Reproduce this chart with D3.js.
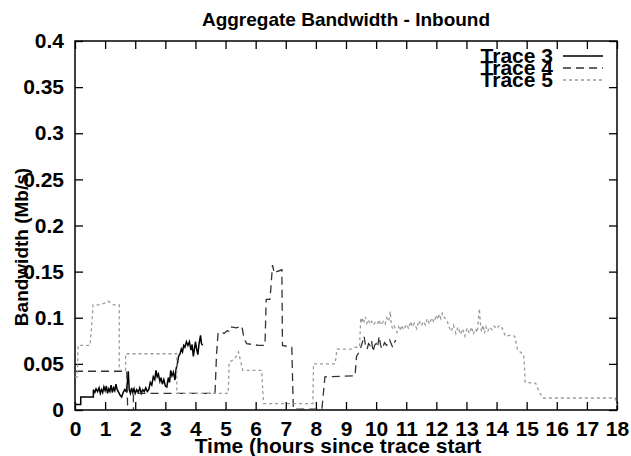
<html>
<head>
	<script src="https://d3js.org/d3.v7.min.js"></script>
	<style>
		body { margin: 0; background: #fff; }
		text { font-family: "Liberation Sans", Arial, sans-serif; font-weight: bold; }
	</style>
</head>
<body>
	<div id="viz"></div>

	<script>
	// data: [hours since start, Mb/s]
	var trace3 = [[0,0.006],[0.19,0.006],[0.19,0.014],[0.61,0.014],[0.61,0.022],[0.66,0.019],[0.7,0.023],
		[0.75,0.02],[0.8,0.024],[0.84,0.018],[0.88,0.022],[0.92,0.019],[0.96,0.025],[1.0,0.021],[1.04,0.026],
		[1.08,0.018],[1.12,0.023],[1.16,0.02],[1.2,0.027],[1.24,0.019],[1.28,0.024],[1.32,0.021],[1.36,0.028],
		[1.4,0.022],[1.45,0.019],[1.5,0.016],[1.55,0.014],[1.6,0.019],[1.65,0.022],[1.7,0.02],[1.74,0.03],
		[1.77,0.042],[1.8,0.022],[1.84,0.018],[1.88,0.024],[1.92,0.019],[1.96,0.023],[2.0,0.018],[2.05,0.022],
		[2.1,0.019],[2.15,0.024],[2.2,0.018],[2.25,0.022],[2.3,0.02],[2.35,0.024],[2.4,0.02],[2.45,0.022],
		[2.5,0.03],[2.55,0.027],[2.6,0.036],[2.65,0.033],[2.69,0.043],[2.73,0.036],[2.77,0.039],[2.82,0.031],
		[2.86,0.035],[2.9,0.028],[2.95,0.033],[3.0,0.026],[3.05,0.025],[3.1,0.035],[3.14,0.03],[3.18,0.043],
		[3.22,0.037],[3.27,0.041],[3.32,0.0325],[3.36,0.045],[3.4,0.05],[3.44,0.058],[3.49,0.061],[3.53,0.066],
		[3.57,0.063],[3.61,0.07],[3.65,0.068],[3.7,0.074],[3.75,0.07],[3.8,0.074],[3.85,0.065],[3.89,0.071],
		[3.93,0.058],[3.97,0.067],[4.0,0.074],[4.04,0.066],[4.08,0.06],[4.12,0.072],[4.17,0.081],[4.2,0.072],
		[4.24,0.07]];

	var trace4 = [[0,0.042],[1.72,0.042],[1.75,0.0],[1.94,0.0],[1.94,0.018],[4.65,0.018],[4.7,0.06],
		[4.75,0.083],[4.85,0.085],[4.95,0.083],[5.05,0.086],[5.15,0.085],[5.2,0.09],[5.35,0.089],[5.54,0.091],
		[5.6,0.08],[5.65,0.075],[5.7,0.072],[5.9,0.071],[6.1,0.07],[6.31,0.07],[6.35,0.12],[6.47,0.12],
		[6.5,0.13],[6.56,0.157],[6.62,0.148],[6.7,0.15],[6.87,0.152],[6.89,0.07],[7.2,0.068],[7.25,0.001],
		[8.2,0.001],[8.3,0.036],[9.3,0.037],[9.35,0.058],[9.47,0.065],[9.53,0.072],[9.6,0.08],[9.65,0.069],
		[9.7,0.066],[9.75,0.072],[9.8,0.07],[9.85,0.075],[9.9,0.063],[9.95,0.07],[10.0,0.072],[10.05,0.068],
		[10.1,0.08],[10.15,0.07],[10.2,0.066],[10.28,0.073],[10.35,0.07],[10.45,0.076],[10.55,0.068],[10.65,0.076]];

	var trace5 = [[0,0.036],[0.08,0.036],[0.1,0.07],[0.5,0.07],[0.55,0.09],[0.6,0.114],[0.8,0.114],
		[1.0,0.116],[1.1,0.118],[1.28,0.114],[1.47,0.114],[1.47,0.043],[1.68,0.043],[1.68,0.061],
		[3.38,0.061],[3.38,0.018],[5.09,0.018],[5.12,0.052],[5.3,0.055],[5.43,0.063],[5.57,0.043],
		[6.2,0.043],[6.26,0.007],[7.9,0.007],[7.92,0.05],[8.64,0.05],[8.7,0.066],[9.19,0.066],[9.3,0.068],
		[9.45,0.068],[9.49,0.1],[9.52,0.094],[9.56,0.1],[9.6,0.096],[9.65,0.101],[9.69,0.094],[9.74,0.098],
		[9.8,0.093],[9.85,0.096],[9.91,0.092],[9.97,0.095],[10.05,0.093],[10.1,0.098],[10.15,0.092],
		[10.24,0.096],[10.3,0.093],[10.35,0.1],[10.42,0.096],[10.47,0.107],[10.5,0.093],[10.55,0.088],
		[10.6,0.091],[10.69,0.084],[10.75,0.09],[10.8,0.086],[10.85,0.092],[10.92,0.087],[11.02,0.093],
		[11.08,0.088],[11.15,0.096],[11.2,0.09],[11.27,0.094],[11.35,0.088],[11.42,0.097],[11.5,0.091],
		[11.57,0.096],[11.64,0.092],[11.7,0.099],[11.77,0.093],[11.85,0.1],[11.92,0.095],[12.0,0.103],
		[12.05,0.098],[12.1,0.104],[12.15,0.099],[12.2,0.105],[12.27,0.1],[12.35,0.098],[12.42,0.09],
		[12.5,0.085],[12.57,0.092],[12.65,0.083],[12.72,0.09],[12.8,0.082],[12.87,0.088],[12.95,0.08],
		[13.02,0.089],[13.1,0.083],[13.17,0.09],[13.23,0.082],[13.3,0.088],[13.36,0.084],[13.4,0.1],
		[13.43,0.11],[13.46,0.095],[13.5,0.085],[13.55,0.092],[13.6,0.083],[13.65,0.09],[13.7,0.085],
		[13.77,0.09],[13.85,0.087],[13.92,0.091],[14.0,0.088],[14.1,0.092],[14.2,0.088],[14.29,0.08],
		[14.45,0.081],[14.6,0.08],[14.7,0.065],[14.9,0.06],[14.93,0.045],[14.95,0.03],[15.3,0.029],
		[15.4,0.021],[15.53,0.013],[17.94,0.013],[18.0,0.005]];

	var xTicks = d3.range(0, 19);
	var yTicks = [0, 0.05, 0.1, 0.15, 0.2, 0.25, 0.3, 0.35, 0.4];
	var seriesNames = ["Trace 3", "Trace 4", "Trace 5"];

	var W = 631, H = 456;
	// plot frame ("top" is taken by window, so use other names)
	var x0 = 75, x1 = 617, y0 = 410, y1 = 41;

	var svg = d3.select("#viz").append("svg")
		.attr("width", W).attr("height", H);

	var x = d3.scaleLinear().domain([0, 18]).range([x0, x1]);
	var y = d3.scaleLinear().domain([0, 0.4]).range([y0, y1]);

	// axes, ticks point inwards like gnuplot
	var xAxis = svg.append("g").attr("transform", "translate(0," + y0 + ")")
		.call(d3.axisBottom(x).tickValues(xTicks).tickSize(-8).tickPadding(11).tickFormat(d3.format("d")));
	var yAxis = svg.append("g").attr("transform", "translate(" + x0 + ",0)")
		.call(d3.axisLeft(y).tickValues(yTicks).tickSize(-8).tickPadding(11).tickFormat(function(d) { return d === 0 ? "0" : String(+d.toFixed(2)); }));
	svg.append("g").attr("transform", "translate(0," + y1 + ")")
		.call(d3.axisTop(x).tickValues(xTicks).tickSize(-8).tickFormat(""));
	svg.append("g").attr("transform", "translate(" + x1 + ",0)")
		.call(d3.axisRight(y).tickValues(yTicks).tickSize(-8).tickFormat(""));

	svg.selectAll(".domain").remove();
	svg.selectAll(".tick line").attr("stroke", "#000").attr("stroke-width", 1.3);
	xAxis.selectAll("text").attr("font-size", 21).attr("fill", "#000");
	yAxis.selectAll("text").attr("font-size", 21).attr("fill", "#000");

	svg.append("rect")
		.attr("x", x0).attr("y", y1)
		.attr("width", x1 - x0).attr("height", y0 - y1)
		.attr("fill", "none").attr("stroke", "#000").attr("stroke-width", 1.5);

	// the traces
	var line = d3.line().x(function(d) { return x(d[0]); }).y(function(d) { return y(d[1]); });
	var styles = [
		{ data: trace3, color: "#000", dash: null, w: 1.5 },
		{ data: trace4, color: "#333", dash: "8,5", w: 1.3 },
		{ data: trace5, color: "#9a9a9a", dash: "3,3", w: 1.3 }
	];

	styles.forEach(function(s) {
		svg.append("path").datum(s.data)
			.attr("d", line)
			.attr("fill", "none")
			.attr("stroke", s.color)
			.attr("stroke-width", s.w)
			.attr("stroke-dasharray", s.dash);
	});

	// legend (rows overlap, as in the original)
	seriesNames.forEach(function(name, i) {
		var by = 63 + i * 12;
		svg.append("text").attr("x", 553).attr("y", by)
			.attr("text-anchor", "end").attr("font-size", 21).text(name);
		svg.append("line").attr("x1", 563).attr("x2", 603)
			.attr("y1", by - 7).attr("y2", by - 7)
			.attr("stroke", styles[i].color).attr("stroke-width", styles[i].w)
			.attr("stroke-dasharray", styles[i].dash);
	});

	// titles
	svg.append("text").attr("x", 346).attr("y", 26)
		.attr("text-anchor", "middle").attr("font-size", 19)
		.text("Aggregate Bandwidth - Inbound");

	svg.append("text").attr("x", 338).attr("y", 453)
		.attr("text-anchor", "middle").attr("font-size", 21)
		.text("Time (hours since trace start");

	svg.append("text").attr("transform", "translate(28,247) rotate(-90)")
		.attr("text-anchor", "middle").attr("font-size", 19)
		.text("Bandwidth (Mb/s)");
	</script>
</body>
</html>
